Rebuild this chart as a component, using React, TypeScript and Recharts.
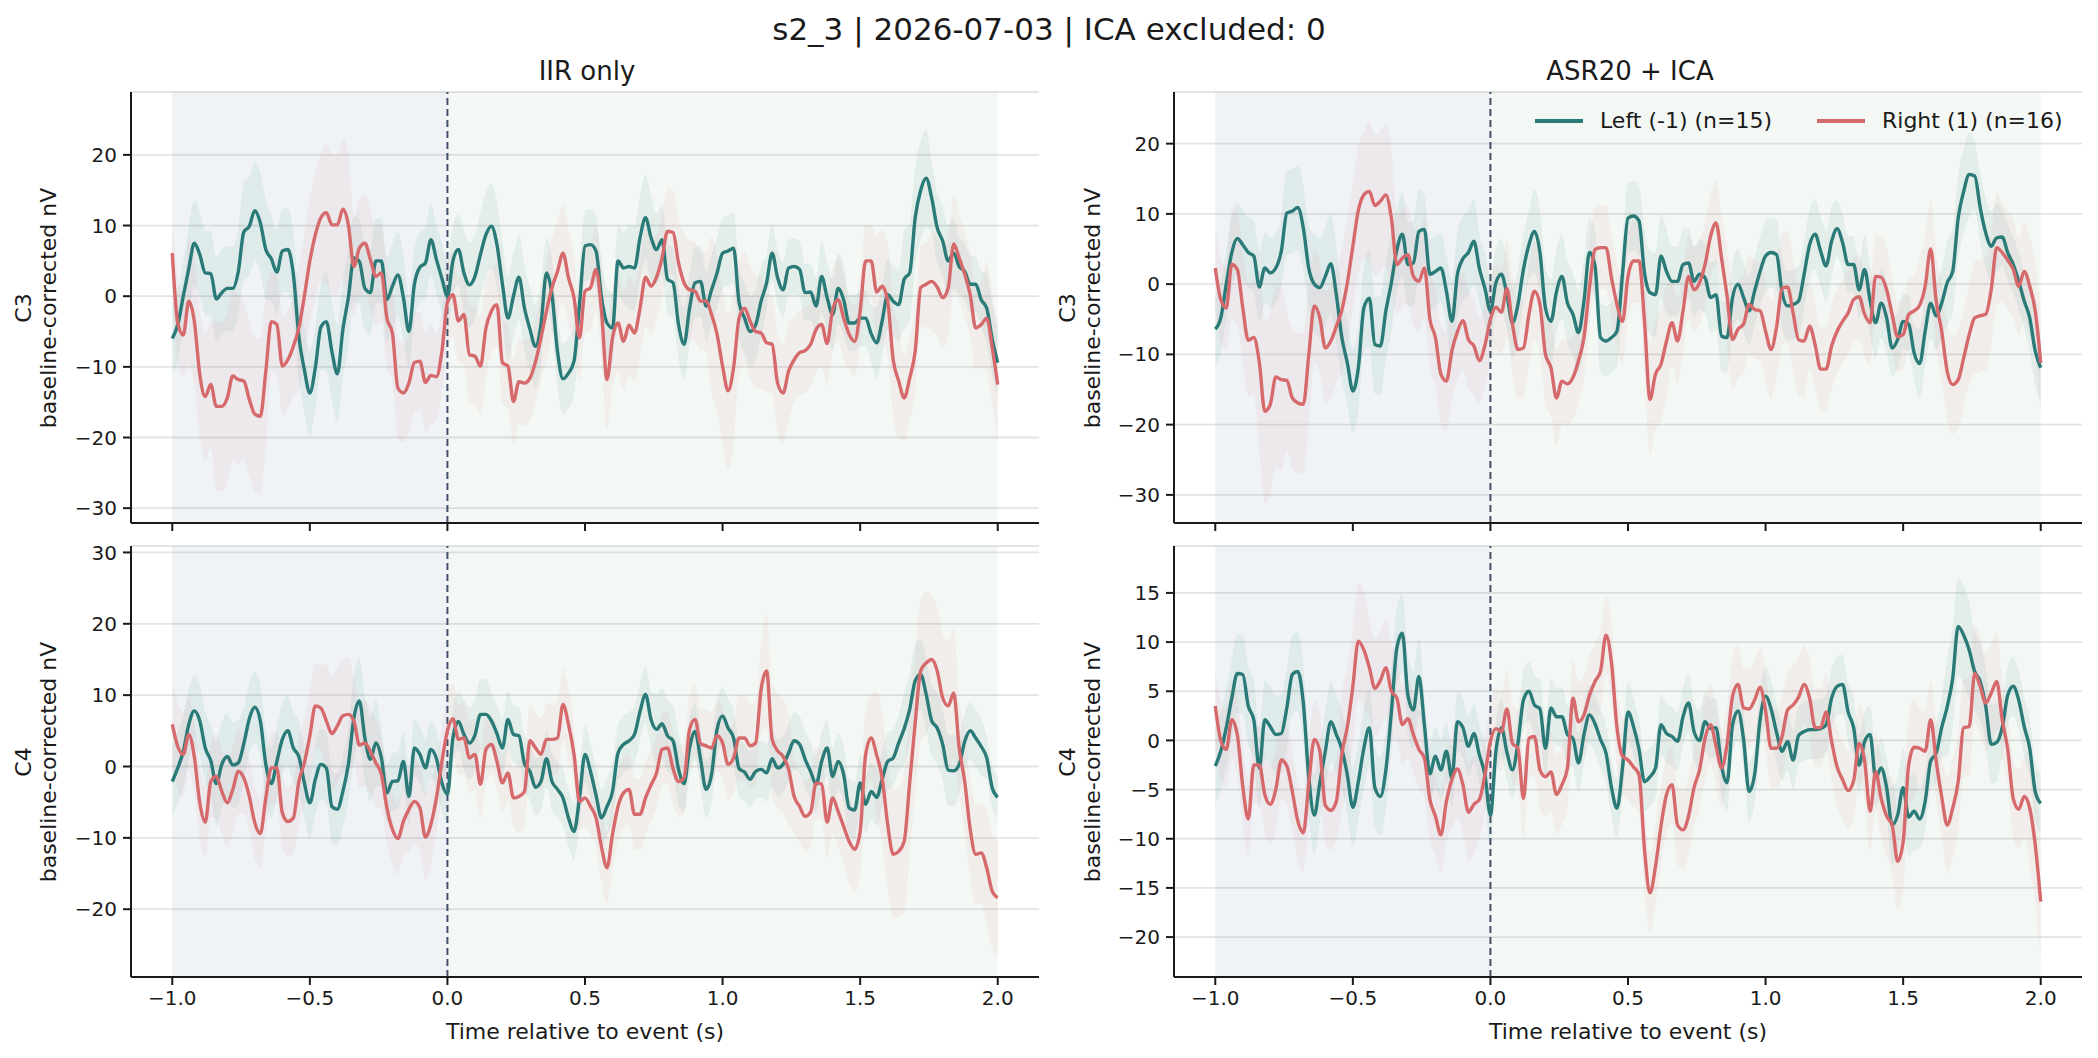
import React from 'react'
import {
  ComposedChart,
  Line,
  Area,
  XAxis,
  YAxis,
  CartesianGrid,
  ReferenceArea,
  ReferenceLine,
} from 'recharts'

const FONT = '"DejaVu Sans", Verdana, sans-serif'
const TEAL = '#2a7a78'
const RED = '#d6696b'
const INK = '#1a1a1a'

// sampling grid, seconds relative to event
const times = Array.from({ length: 151 }, (_, i) => Math.round((-1 + i * 0.02) * 100) / 100)
const xTicks = [-1, -0.5, 0, 0.5, 1, 1.5, 2]

// C3, IIR only
const c3IirLeft = [
  -6.0, -4.0, 0.0, 3.9, 7.5, 5.9, 3.3, 3.2, -0.4, 0.5,
  1.1, 1.1, 3.5, 9.1, 9.9, 12.1, 10.4, 6.6, 5.3, 3.4,
  6.4, 6.6, 3.1, -5.7, -10.4, -13.7, -10.1, -4.4, -3.6, -7.8,
  -11.0, -4.7, -0.2, 5.4, 4.9, 1.1, 0.5, 5.0, 5.0, -0.5,
  1.4, 3.0, -0.2, -5.0, 1.7, 4.1, 4.7, 8.0, 5.2, 2.5,
  0.0, 5.0, 6.6, 3.3, 1.6, 2.8, 5.9, 8.7, 9.9, 7.3,
  1.7, -3.1, 0.0, 2.7, -1.7, -4.7, -7.1, -4.0, 3.3, 0.2,
  -7.8, -11.7, -10.9, -9.2, -1.2, 7.1, 7.3, 6.4, -0.2, -3.8,
  -4.5, 5.0, 4.0, 4.2, 4.0, 8.3, 11.1, 8.3, 6.6, 8.0,
  2.4, 1.9, -4.0, -6.8, -1.7, 1.9, 2.1, -1.4, 0.9, 3.3,
  6.1, 6.4, 6.8, -0.9, -3.1, -5.0, -4.1, -0.7, 1.9, 6.1,
  2.6, 0.9, 4.0, 4.2, 3.8, 0.5, 0.6, -1.4, 2.8, -0.2,
  -2.6, 1.1, -0.5, -3.8, -3.8, -3.1, -3.1, -5.3, -6.6, -3.5,
  0.2, -0.7, -1.2, 2.4, 3.3, 11.1, 15.0, 16.7, 13.9, 9.7,
  7.8, 5.0, 6.1, 4.2, 3.5, 1.7, 1.7, -0.5, -1.7, -6.1, -9.4,
]
const c3IirRight = [
  6.1, -3.8, -5.5, -0.7, -3.5, -11.1, -14.2, -12.5, -15.6, -15.6,
  -14.4, -11.3, -11.8, -12.0, -14.6, -16.7, -17.0, -10.6, -3.6, -4.0,
  -9.9, -9.0, -7.1, -4.5, 0.0, 5.0, 8.7, 11.1, 11.8, 10.1,
  10.1, 12.3, 10.1, 4.2, 6.8, 7.5, 5.2, 2.8, 3.3, -3.1,
  -5.2, -13.0, -13.7, -12.3, -9.4, -9.2, -12.2, -11.2, -11.4, -7.8,
  -0.9, 0.2, -3.5, -2.6, -8.3, -8.5, -9.9, -4.5, -2.1, -1.2,
  -9.4, -9.9, -14.9, -12.1, -12.3, -11.6, -9.3, -5.9, -2.1, 1.2,
  3.5, 6.1, 2.6, -0.2, -5.9, 0.7, 1.2, 3.8, -2.1, -11.8,
  -5.9, -3.8, -6.4, -4.1, -5.2, -1.7, 2.7, 1.4, 2.7, 5.4,
  9.2, 9.0, 4.7, 1.9, 0.9, 0.7, -0.7, -0.7, -2.6, -5.4,
  -9.9, -13.4, -10.1, -3.1, -1.7, -3.5, -5.0, -5.2, -6.6, -6.8,
  -12.3, -13.7, -10.6, -9.0, -8.0, -7.7, -6.8, -4.7, -4.0, -6.7,
  -1.9, -0.5, -3.1, -5.4, -6.4, -2.1, 5.0, 5.0, 0.6, 1.4,
  -0.7, -9.0, -12.0, -14.4, -11.6, -7.8, 1.2, 1.7, 2.1, 1.3,
  -0.2, 1.2, 7.4, 5.4, 3.1, 0.2, -4.5, -4.0, -3.1, -7.3, -12.5,
]

// C4, IIR only
const c4IirLeft = [
  -2.1, -0.2, 2.1, 5.9, 7.8, 6.4, 2.6, 0.8, -2.4, 0.3,
  1.4, 0.2, 0.5, 3.2, 6.7, 8.3, 6.4, 0.3, -2.4, 0.7,
  3.8, 5.0, 2.6, 1.4, -2.3, -5.1, -1.8, 0.3, -0.2, -5.6,
  -6.0, -3.5, 0.3, 6.8, 9.2, 4.0, 1.0, 3.3, 1.2, -3.7,
  -2.1, -2.0, 0.7, -4.2, 2.6, 1.7, -0.2, 2.4, 1.1, -2.3,
  -3.9, 4.0, 6.3, 4.5, 3.3, 4.4, 7.3, 7.3, 6.4, 4.6,
  2.6, 6.6, 4.5, 4.3, 0.4, -0.7, -2.9, -2.1, 1.1, -2.1,
  -3.2, -4.4, -7.2, -9.1, -4.4, 1.7, -0.7, -4.0, -7.2, -5.6,
  -3.5, 1.9, 3.1, 3.6, 4.5, 7.7, 10.1, 6.6, 5.2, 6.0,
  4.3, 3.6, -0.4, -2.4, 2.6, 4.9, 1.0, -3.2, -1.1, 5.2,
  7.1, 5.4, 4.0, -0.3, -0.8, -1.8, -0.7, -0.4, -0.9, 1.1,
  -0.2, 0.3, 1.9, 3.6, 3.1, 1.0, -0.7, -2.5, 0.7, 2.6,
  -1.4, 0.7, -1.1, -5.8, -6.1, -2.3, -5.3, -3.5, -4.3, -1.8,
  0.7, 1.2, 3.3, 5.3, 8.0, 12.0, 12.9, 10.1, 6.4, 5.4,
  3.1, -0.5, -0.6, 0.3, 3.5, 5.0, 4.0, 2.8, 1.2, -3.0, -4.3,
]
const c4IirRight = [
  5.9, 2.8, 1.7, 4.5, 1.4, -5.1, -7.8, -2.1, -1.4, -3.5,
  -5.1, -3.2, -0.7, -1.6, -4.2, -7.9, -9.4, -4.4, -0.2, -0.2,
  -6.5, -7.7, -7.2, -2.1, 0.5, 4.3, 8.5, 8.2, 6.4, 4.6,
  5.7, 7.1, 7.3, 6.4, 3.0, 3.3, 2.1, 0.5, -1.1, -5.8,
  -8.8, -10.1, -7.7, -6.0, -4.9, -5.8, -9.9, -8.1, -4.4, 0.7,
  5.0, 6.7, 3.8, 4.0, 1.2, 1.7, -2.5, 2.4, 3.1, 0.7,
  -2.3, -0.9, -4.4, -4.2, -3.5, 3.6, 2.6, 1.7, 3.8, 3.8,
  4.0, 8.7, 5.9, 1.7, -4.9, -4.4, -5.6, -7.2, -11.3, -14.2,
  -9.5, -5.6, -3.7, -3.2, -6.7, -6.7, -4.4, -2.6, -0.9, 2.4,
  2.6, -0.3, -2.1, -1.6, 5.2, 6.6, 3.2, 2.9, 2.6, 4.3,
  3.3, 0.3, 1.2, 4.0, 4.0, 2.9, 3.3, 10.8, 13.4, 3.8,
  2.2, 1.4, -0.4, -4.2, -5.6, -7.0, -6.4, -2.3, -2.5, -7.8,
  -4.4, -6.3, -8.4, -10.5, -11.6, -9.1, 1.7, 4.0, 1.6, -1.6,
  -8.1, -12.3, -11.9, -10.5, -2.3, 6.1, 13.4, 14.5, 15.0, 13.4,
  9.6, 8.5, 10.3, 2.6, -2.1, -8.8, -12.3, -12.1, -14.2, -17.5, -18.4,
]

// C3, ASR20 + ICA
const c3AsrLeft = [
  -6.4, -4.8, 0.0, 4.5, 6.5, 5.6, 4.5, 4.0, -0.4, 2.3,
  1.6, 2.3, 4.7, 10.1, 10.4, 10.9, 8.0, 2.2, 0.0, -0.5,
  1.1, 2.9, -1.5, -7.6, -11.2, -15.2, -11.9, -3.4, -2.0, -8.6,
  -8.8, -3.8, 0.2, 4.9, 7.1, 2.8, 3.0, 7.5, 7.8, 1.4,
  1.8, 2.3, -1.0, -5.3, 1.4, 3.6, 4.5, 6.1, 2.2, -0.6,
  -3.8, 0.2, 1.4, -1.5, -5.5, -2.9, 2.1, 5.6, 7.5, 4.5,
  -3.4, -5.3, -1.1, 1.1, -2.7, -4.3, -6.9, -2.4, 4.5, 2.6,
  -7.6, -8.1, -7.6, -6.7, 1.4, 9.4, 9.7, 9.0, 1.6, -1.2,
  -1.5, 4.0, 1.8, 0.4, 0.4, 2.8, 3.0, 0.4, 1.4, 0.9,
  -1.9, -1.5, -7.4, -7.6, -1.9, 0.0, -1.9, -3.8, -1.0, 1.8,
  4.0, 4.5, 4.2, -1.2, -3.1, -2.9, -2.4, 1.4, 5.6, 7.1,
  4.7, 2.6, 6.1, 7.9, 5.9, 2.8, 2.8, -0.8, 2.1, -2.4,
  -5.5, -2.7, -4.8, -9.1, -7.9, -5.3, -5.7, -9.8, -11.3, -6.7,
  -2.7, -4.5, -2.7, 0.2, 1.8, 9.4, 13.2, 15.6, 15.4, 10.9,
  7.3, 5.4, 6.6, 6.7, 4.5, 2.8, 0.4, -2.4, -4.8, -9.5, -11.9,
]
const c3AsrRight = [
  2.3, -2.2, -3.4, 2.8, 2.1, -3.4, -8.0, -7.6, -11.1, -18.1,
  -17.1, -13.2, -13.6, -13.7, -16.2, -16.9, -17.1, -10.0, -3.1, -4.8,
  -9.1, -8.1, -6.0, -3.7, 0.2, 5.4, 10.5, 12.7, 13.2, 11.2,
  11.8, 12.7, 9.4, 2.8, 3.7, 4.2, 1.1, 0.4, 2.3, -5.0,
  -7.6, -12.8, -13.8, -9.5, -6.8, -5.2, -7.9, -8.8, -10.9, -8.7,
  -5.0, -3.3, -4.0, -0.6, -5.7, -9.3, -9.1, -4.3, -1.0, -2.9,
  -10.0, -11.9, -16.2, -13.8, -14.2, -13.3, -10.9, -7.6, -0.5, 4.9,
  5.2, 5.2, 0.9, -2.9, -5.3, 1.1, 3.3, 3.3, -5.3, -16.4,
  -12.8, -11.4, -8.1, -5.5, -8.1, -3.8, 1.1, -0.8, 0.2, 2.8,
  6.8, 8.7, 3.7, -1.7, -7.9, -6.4, -5.7, -2.9, -3.6, -3.8,
  -6.7, -9.3, -6.1, -0.6, -0.4, -4.1, -7.9, -8.1, -6.0, -8.6,
  -12.1, -12.1, -8.8, -6.7, -5.3, -4.1, -2.2, -1.8, -4.3, -5.5,
  1.1, 1.0, -0.8, -4.3, -7.5, -7.2, -4.3, -3.8, -3.0, -0.3,
  5.0, -2.4, -6.7, -12.4, -14.3, -13.6, -10.5, -7.2, -4.8, -4.5,
  -4.3, -0.8, 5.2, 4.5, 3.4, 2.1, -0.3, 1.8, -0.3, -3.8, -11.2,
]

// C4, ASR20 + ICA
const c4AsrLeft = [
  -2.6, -1.1, 1.3, 4.3, 6.8, 6.7, 3.5, 2.1, -2.8, 2.1,
  1.4, 0.6, 0.7, 3.3, 6.7, 7.0, 3.8, -3.8, -7.6, -4.3,
  -1.1, 1.9, 0.6, -0.9, -3.5, -6.8, -4.2, -0.8, 1.3, -4.8,
  -5.7, -3.0, 2.9, 9.4, 10.9, 4.6, 3.1, 6.5, 1.6, -3.4,
  -1.6, -3.0, -1.1, -3.8, 1.9, 1.3, -0.6, 0.7, -1.5, -3.5,
  -7.6, -1.1, 1.3, -1.2, -3.0, -0.3, 4.1, 5.0, 3.6, 3.2,
  -0.8, 3.3, 2.4, 2.4, 0.6, 0.2, -2.3, 0.6, 2.6, 1.7,
  0.1, -1.3, -4.8, -6.9, -2.8, 2.9, 1.4, -0.9, -4.2, -3.7,
  -2.8, 1.6, 0.7, 0.4, -0.1, 2.4, 3.8, 0.9, 0.0, 1.9,
  1.2, 1.3, -2.6, -4.3, 1.6, 3.0, 0.1, -5.2, -3.5, 2.1,
  4.5, 3.2, 0.8, -1.1, -0.1, -2.0, 0.5, 0.9, 1.1, 1.1,
  1.2, 1.6, 4.3, 5.5, 5.7, 2.9, 1.3, -2.5, -0.1, 0.6,
  -3.8, -2.8, -4.8, -8.6, -7.6, -4.8, -7.8, -7.2, -8.0, -6.2,
  -2.1, -1.3, 1.3, 3.4, 6.3, 11.6, 10.7, 9.2, 7.0, 6.0,
  3.5, -0.4, -0.2, 1.3, 4.6, 5.5, 4.1, 1.4, -0.8, -5.2, -6.4,
]
const c4AsrRight = [
  3.5, 0.0, -0.9, 2.1, 0.6, -4.7, -8.0, -2.5, -2.5, -5.5,
  -6.5, -5.0, -2.0, -2.6, -5.2, -8.2, -9.4, -4.3, 0.1, -1.1,
  -6.6, -7.1, -6.2, -1.4, 1.4, 5.5, 10.1, 9.2, 7.4, 5.3,
  6.1, 7.4, 5.0, 4.3, 1.6, 2.2, 0.6, -0.9, -1.8, -6.0,
  -7.7, -9.6, -6.2, -4.0, -2.9, -4.5, -7.3, -6.5, -6.0, -3.5,
  -0.1, 1.2, 0.9, 3.2, -0.3, -0.8, -5.9, 0.2, 0.4, -3.0,
  -3.7, -3.2, -5.5, -4.5, -2.8, 4.3, 1.9, 2.6, 4.6, 6.0,
  7.0, 10.7, 7.9, 1.3, -1.6, -2.0, -2.7, -3.5, -11.1, -15.5,
  -12.8, -8.7, -5.5, -4.5, -8.6, -9.1, -7.7, -4.8, -3.0, 0.2,
  1.6, -0.6, -2.8, -0.4, 4.5, 5.7, 3.3, 3.2, 4.1, 5.4,
  3.0, -0.8, -0.8, 0.4, 3.1, 3.6, 4.4, 5.7, 4.3, 1.3,
  1.3, 2.9, -0.1, -2.7, -4.0, -5.1, -4.1, -0.3, -2.1, -7.2,
  -3.2, -5.9, -7.7, -8.6, -12.3, -10.3, -2.5, -0.7, -0.8, -1.1,
  2.1, -2.1, -5.7, -8.6, -6.9, -4.2, 1.3, 1.4, 6.8, 5.5,
  3.8, 4.8, 6.0, 2.1, -0.9, -5.9, -7.0, -5.7, -6.9, -10.6, -16.4,
]

// spread of the shaded band, one value per 0.1 s from -1.0 to 2.0
const c3IirLeftSem = [5, 6, 6, 7, 6, 6, 7, 6, 6, 5, 5, 6, 6, 6, 5, 5, 5, 6, 5, 5, 5, 5, 4, 4, 5, 4, 5, 7, 5, 4, 5]
const c3IirRightSem = [6, 9, 12, 11, 7, 9, 10, 7, 7, 7, 6, 7, 6, 6, 7, 6, 7, 7, 6, 7, 11, 8, 7, 6, 6, 5, 8, 6, 7, 6, 8]
const c4IirLeftSem = [5, 5, 6, 5, 5, 5, 5, 6, 4, 4, 4, 5, 4, 4, 4, 4, 4, 4, 5, 4, 4, 4, 4, 4, 4, 4, 4, 5, 5, 4, 3]
const c4IirRightSem = [6, 5, 6, 5, 5, 6, 8, 6, 5, 6, 5, 5, 4, 5, 5, 4, 5, 5, 5, 5, 5, 6, 8, 5, 5, 6, 9, 10, 9, 7, 8]
const c3AsrLeftSem = [5, 5, 5, 6, 7, 6, 7, 6, 5, 6, 5, 5, 6, 6, 5, 5, 6, 5, 5, 5, 5, 5, 5, 4, 5, 4, 5, 6, 5, 4, 5]
const c3AsrRightSem = [6, 8, 13, 10, 8, 9, 10, 7, 7, 7, 6, 7, 7, 6, 6, 6, 8, 6, 6, 7, 7, 8, 6, 6, 6, 5, 7, 7, 8, 7, 7]
const c4AsrLeftSem = [4, 4, 4, 4, 4, 4, 4, 4, 3, 3, 3, 3, 3, 3, 3, 3, 3, 3, 3, 3, 3, 3, 3, 3, 3, 4, 3, 5, 4, 3, 3]
const c4AsrRightSem = [4, 4, 4, 4, 4, 6, 5, 4, 4, 5, 4, 4, 4, 4, 4, 4, 4, 4, 4, 4, 4, 4, 4, 4, 4, 5, 4, 5, 5, 4, 6]

function buildRows(left: number[], right: number[], leftSem: number[], rightSem: number[]) {
  return times.map((t, i) => {
    const b = Math.round((t + 1) * 10)
    return {
      t,
      left: left[i],
      right: right[i],
      leftBand: [left[i] - leftSem[b], left[i] + leftSem[b]],
      rightBand: [right[i] - rightSem[b], right[i] + rightSem[b]],
    }
  })
}

const fmtNum = (v: number, digits: number) => {
  const s = Math.abs(v).toFixed(digits)
  return v < 0 ? '\u2212' + s : s
}

const PLOT_W = 908
const PLOT_H = 431

interface PanelProps {
  x: number
  y: number
  data: ReturnType<typeof buildRows>
  domain: [number, number]
  yTicks: number[]
  showXLabels: boolean
}

function Panel({ x, y, data, domain, yTicks, showXLabels }: PanelProps) {
  const tickStyle = { fill: INK, fontSize: 20, fontFamily: FONT }
  const axisStyle = { stroke: INK, strokeWidth: 2 }
  return (
    <div style={{ position: 'absolute', left: x - 90, top: y - 10 }}>
      <ComposedChart
        width={PLOT_W + 100}
        height={PLOT_H + 70}
        data={data}
        margin={{ top: 10, right: 10, bottom: 0, left: 0 }}
      >
        <CartesianGrid vertical={false} stroke="#e4e4e4" strokeWidth={1.8} />
        <ReferenceArea x1={-1} x2={0} fill="#37698e" fillOpacity={0.08} stroke="none" />
        <ReferenceArea x1={0} x2={2} fill="#488a58" fillOpacity={0.06} stroke="none" />
        <XAxis
          type="number"
          dataKey="t"
          domain={[-1.15, 2.15]}
          ticks={xTicks}
          allowDataOverflow
          height={60}
          tickSize={8}
          tickMargin={6}
          axisLine={axisStyle}
          tickLine={axisStyle}
          tick={tickStyle}
          tickFormatter={(v: number) => (showXLabels ? fmtNum(v, 1) : '')}
        />
        <YAxis
          type="number"
          domain={domain}
          ticks={yTicks}
          allowDataOverflow
          width={90}
          tickSize={8}
          tickMargin={6}
          axisLine={axisStyle}
          tickLine={axisStyle}
          tick={tickStyle}
          tickFormatter={(v: number) => fmtNum(v, 0)}
        />
        <Area
          type="monotone"
          dataKey="leftBand"
          fill={TEAL}
          fillOpacity={0.08}
          stroke="none"
          activeDot={false}
          isAnimationActive={false}
        />
        <Area
          type="monotone"
          dataKey="rightBand"
          fill={RED}
          fillOpacity={0.07}
          stroke="none"
          activeDot={false}
          isAnimationActive={false}
        />
        <ReferenceLine x={0} stroke="#44506b" strokeWidth={2} strokeDasharray="7 4" />
        <Line
          type="monotone"
          dataKey="left"
          stroke={TEAL}
          strokeWidth={3.4}
          dot={false}
          activeDot={false}
          isAnimationActive={false}
        />
        <Line
          type="monotone"
          dataKey="right"
          stroke={RED}
          strokeWidth={3.4}
          dot={false}
          activeDot={false}
          isAnimationActive={false}
        />
      </ComposedChart>
    </div>
  )
}

function Text({ x, y, size, children, rotate }: { x: number; y: number; size: number; children: React.ReactNode; rotate?: boolean }) {
  return (
    <div
      style={{
        position: 'absolute',
        left: x,
        top: y,
        transform: `translate(-50%, -50%)${rotate ? ' rotate(-90deg)' : ''}`,
        fontFamily: FONT,
        fontSize: size,
        color: INK,
        whiteSpace: 'nowrap',
        lineHeight: 1,
      }}
    >
      {children}
    </div>
  )
}

function LegendItem({ x, color, label }: { x: number; color: string; label: string }) {
  return (
    <div style={{ position: 'absolute', left: x, top: 121, transform: 'translateY(-50%)', display: 'flex', alignItems: 'center' }}>
      <div style={{ width: 48, height: 3.4, background: color }} />
      <div style={{ marginLeft: 17, fontFamily: FONT, fontSize: 22, color: INK, whiteSpace: 'nowrap', lineHeight: 1 }}>{label}</div>
    </div>
  )
}

const c3IirRows = buildRows(c3IirLeft, c3IirRight, c3IirLeftSem, c3IirRightSem)
const c4IirRows = buildRows(c4IirLeft, c4IirRight, c4IirLeftSem, c4IirRightSem)
const c3AsrRows = buildRows(c3AsrLeft, c3AsrRight, c3AsrLeftSem, c3AsrRightSem)
const c4AsrRows = buildRows(c4AsrLeft, c4AsrRight, c4AsrLeftSem, c4AsrRightSem)

export default function App() {
  return (
    <div style={{ position: 'absolute', left: 0, top: 0, width: 2098, height: 1058, background: '#fff', overflow: 'hidden' }}>
      <Text x={1049} y={29} size={31}>s2_3 | 2026-07-03 | ICA excluded: 0</Text>
      <Text x={587} y={71} size={26}>IIR only</Text>
      <Text x={1630} y={71} size={26}>ASR20 + ICA</Text>

      <Panel x={131} y={92} data={c3IirRows} domain={[-32.1, 28.9]} yTicks={[-30, -20, -10, 0, 10, 20]} showXLabels={false} />
      <Panel x={131} y={546} data={c4IirRows} domain={[-29.5, 30.9]} yTicks={[-20, -10, 0, 10, 20, 30]} showXLabels />
      <Panel x={1174} y={92} data={c3AsrRows} domain={[-34.0, 27.35]} yTicks={[-30, -20, -10, 0, 10, 20]} showXLabels={false} />
      <Panel x={1174} y={546} data={c4AsrRows} domain={[-24.06, 19.77]} yTicks={[-20, -15, -10, -5, 0, 5, 10, 15]} showXLabels />

      <Text x={24} y={308} size={22} rotate>C3</Text>
      <Text x={49} y={308} size={22} rotate>baseline-corrected nV</Text>
      <Text x={24} y={762} size={22} rotate>C4</Text>
      <Text x={49} y={762} size={22} rotate>baseline-corrected nV</Text>
      <Text x={1068} y={308} size={22} rotate>C3</Text>
      <Text x={1093} y={308} size={22} rotate>baseline-corrected nV</Text>
      <Text x={1068} y={762} size={22} rotate>C4</Text>
      <Text x={1093} y={762} size={22} rotate>baseline-corrected nV</Text>

      <Text x={585} y={1032} size={22}>Time relative to event (s)</Text>
      <Text x={1628} y={1032} size={22}>Time relative to event (s)</Text>

      <LegendItem x={1535} color={TEAL} label="Left (-1) (n=15)" />
      <LegendItem x={1817} color={RED} label="Right (1) (n=16)" />
    </div>
  )
}
